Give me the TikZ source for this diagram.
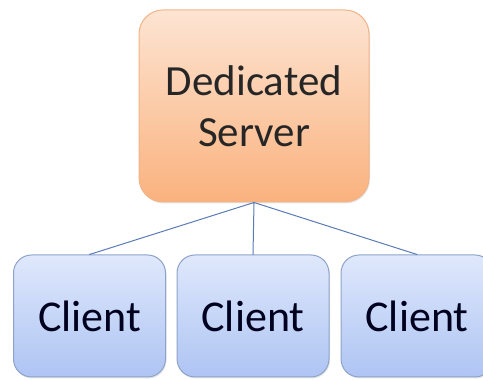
\documentclass[tikz,border=0pt]{standalone}
\usepackage{fontspec}
\setmainfont{Carlito}
\usetikzlibrary{shadows}
\definecolor{srvtop}{HTML}{FDE4D2}
\definecolor{srvbot}{HTML}{FAB27E}
\definecolor{srvline}{HTML}{F2B387}
\definecolor{clitop}{HTML}{DFE8FC}
\definecolor{clibot}{HTML}{AEC4F3}
\definecolor{cliline}{HTML}{8DA3CB}
\definecolor{wire}{HTML}{5A7BB5}
\begin{document}
\begin{tikzpicture}[x=1pt,y=1pt,line join=round,line cap=round,
	serverbox/.style={draw=srvline,line width=1pt,rounded corners=24pt,top color=srvtop,bottom color=srvbot,
		minimum width=230pt,minimum height=192pt,align=center,text=black!85,
		font=\fontsize{43}{51}\selectfont,drop shadow={opacity=0.2,shadow xshift=1pt,shadow yshift=-1.5pt}},
	clientbox/.style={draw=cliline,line width=1pt,rounded corners=18pt,top color=clitop,bottom color=clibot,
		minimum width=152pt,minimum height=122pt,text=black!80!blue!60!black,
		font=\fontsize{44}{50}\selectfont,drop shadow={opacity=0.2,shadow xshift=1pt,shadow yshift=-1.5pt}},
	wire/.style={draw=wire,line width=1pt}]
	\useasboundingbox (0,0) rectangle (483,380);
	\node[serverbox] (server) at (254,274) {Dedicated\\Server};
	\node[clientbox] (clientA) at (89.5,64) {Client};
	\node[clientbox] (clientB) at (253,64) {Client};
	\node[clientbox] (clientC) at (417,64) {Client};
	\draw[wire] (server.south)--(clientA.north) (server.south)--(clientB.north) (server.south)--(clientC.north);
\end{tikzpicture}
\end{document}
